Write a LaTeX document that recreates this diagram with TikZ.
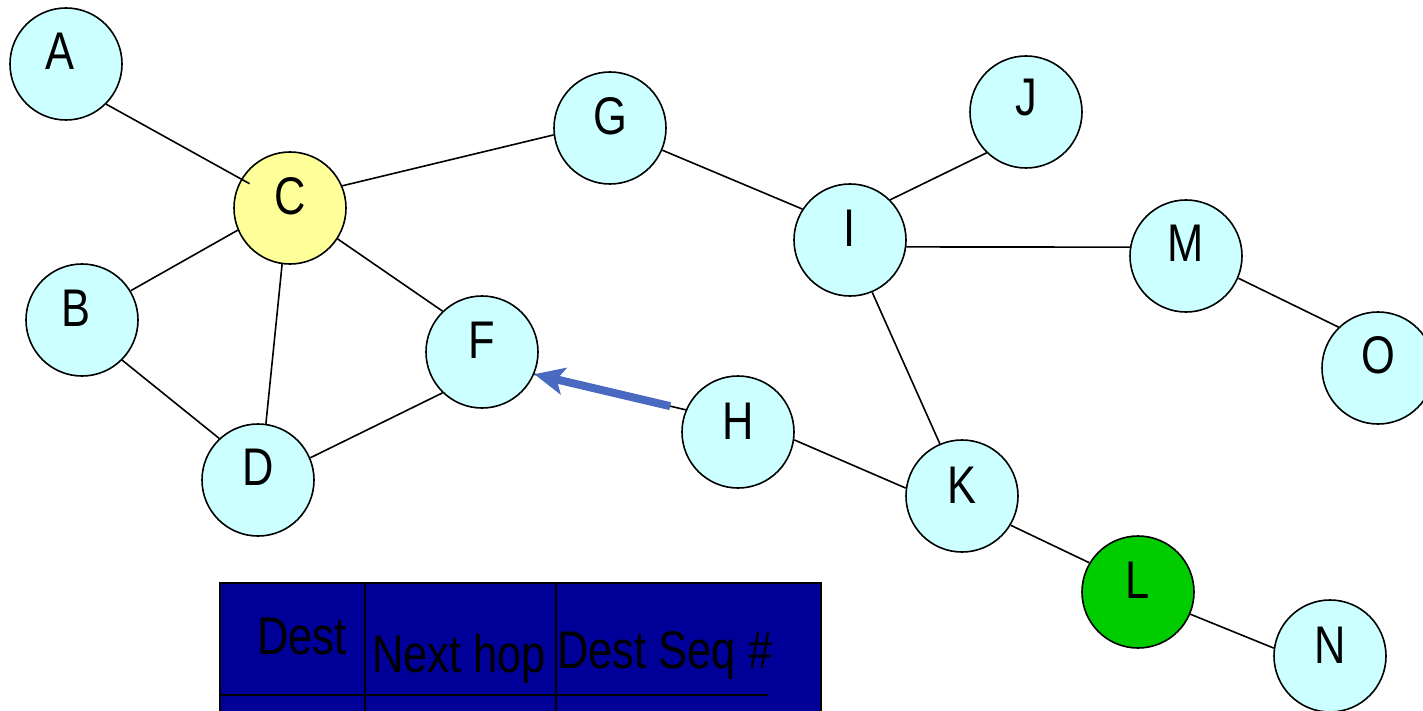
\documentclass[tikz,border=0pt]{standalone}
\usepackage{fontspec}
\newfontfamily\nar[FakeStretch=0.82]{Liberation Sans}
\usetikzlibrary{arrows.meta,calc}
\definecolor{nodecyan}{RGB}{204,255,255}
\definecolor{nodeyellow}{RGB}{255,255,153}
\definecolor{nodegreen}{RGB}{0,204,0}
\definecolor{tablue}{RGB}{0,0,153}
\definecolor{arrblue}{RGB}{74,105,192}
\tikzset{
  nd/.style={circle,draw=black,line width=1.6pt,fill=nodecyan,minimum size=112pt,inner sep=0pt},
  lab/.style={font=\nar\fontsize{53}{60}\selectfont,inner sep=0pt},
  edge/.style={draw=black,line width=1.6pt},
  tline/.style={draw=black,line width=1.8pt},
  ttext/.style={font=\nar\fontsize{53}{60}\selectfont,inner sep=0pt,anchor=base west},
  bluearrow/.style={draw=arrblue,line width=8pt,-{Stealth[length=30pt,width=27pt,inset=7pt]}}
}
\begin{document}
\begin{tikzpicture}[x=1pt,y=-1pt]
\path[use as bounding box,clip] (0,0) rectangle (1423,711);
\fill[white] (0,0) rectangle (1423,711);
% nodes
\node[nd,label={[lab,yshift=13pt,xshift=-6pt]center:A}] (A) at (66,64) {};
\node[nd,fill=nodeyellow,label={[lab,yshift=12pt]center:C}] (C) at (290,208) {};
\node[nd,label={[lab,yshift=12pt,xshift=-6pt]center:B}] (B) at (82,320) {};
\node[nd,label={[lab,yshift=13pt]center:D}] (D) at (258,480) {};
\node[nd,label={[lab,yshift=12pt]center:F}] (F) at (482,352) {};
\node[nd,label={[lab,yshift=12pt]center:G}] (G) at (610,128) {};
\node[nd,label={[lab,yshift=11pt]center:H}] (H) at (738,432) {};
\node[nd,label={[lab,yshift=12pt]center:I}] (I) at (850,240) {};
\node[nd,label={[lab,yshift=14pt]center:J}] (J) at (1026,112) {};
\node[nd,label={[lab,yshift=13pt]center:M}] (M) at (1186,256) {};
\node[nd,label={[lab,yshift=13pt]center:O}] (O) at (1378,368) {};
\node[nd,label={[lab,yshift=11pt]center:K}] (K) at (962,496) {};
\node[nd,fill=nodegreen,label={[lab,yshift=12pt]center:L}] (L) at (1138,592) {};
\node[nd,label={[lab,yshift=11pt]center:N}] (N) at (1330,656) {};
% edges
\draw[edge] (A.-45) -- ($(C.center)!0.83!(C.149)$);
\draw[edge] (C.23) -- (G.-173);
\draw[edge] (C.203) -- (B.31);
\draw[edge] (C.-33) -- (F.134);
\draw[edge] (C.-98) -- (D.82);
\draw[edge] (B.-45) -- (D.133);
\draw[edge] (D.23) -- (F.-134);
\draw[edge] (G.-23) -- (I.147);
\draw[edge] (I.45) -- (J.-134);
\draw[edge] (I.-7) -- (M.171);
\draw[edge] (I.-67) -- (K.113);
\draw[edge] (M.-23) -- (O.134);
\draw[edge] (H.-8) -- (K.172);
\draw[edge] (K.-31) -- (L.149);
\draw[edge] (L.-23) -- (N.172);
\draw[edge] (H.157) -- (F.-23);
\draw[bluearrow,shorten <=16pt] (H.157) -- (F.-23);
% table
\filldraw[fill=tablue,draw=black,line width=1.8pt] (220,583) rectangle (821,730);
\draw[tline] (365,583) -- (365,711);
\draw[tline] (556,583) -- (556,711);
\draw[tline] (220,695) -- (768,695);
\node[ttext] (t1) at (257,654) {Dest};
\node[ttext] (t2) at (372,672) {Next hop};
\node[ttext] (t3) at (557,668) {Dest Seq \#};
\end{tikzpicture}
\end{document}
